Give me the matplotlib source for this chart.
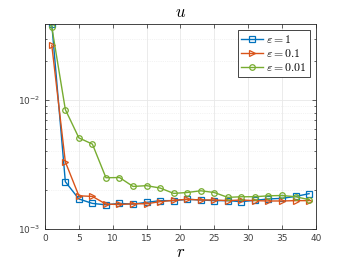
import matplotlib
matplotlib.use("Agg")
import matplotlib.pyplot as plt
import numpy as np

plt.rcParams['mathtext.fontset'] = 'cm'

r = [1, 3, 5, 7, 9, 11, 13, 15, 17, 19, 21, 23, 25, 27, 29, 31, 33, 35, 37, 39]

u_eps1 = [0.039, 2.33e-3, 1.71e-3, 1.58e-3, 1.54e-3, 1.58e-3, 1.56e-3, 1.61e-3, 1.66e-3, 1.66e-3,
          1.70e-3, 1.68e-3, 1.66e-3, 1.66e-3, 1.63e-3, 1.67e-3, 1.71e-3, 1.73e-3, 1.79e-3, 1.88e-3]
u_eps01 = [0.0267, 3.32e-3, 1.81e-3, 1.79e-3, 1.56e-3, 1.55e-3, 1.57e-3, 1.57e-3, 1.63e-3, 1.67e-3,
           1.70e-3, 1.68e-3, 1.68e-3, 1.66e-3, 1.68e-3, 1.66e-3, 1.65e-3, 1.65e-3, 1.66e-3, 1.66e-3]
u_eps001 = [0.037, 8.47e-3, 5.1e-3, 4.56e-3, 2.5e-3, 2.51e-3, 2.14e-3, 2.17e-3, 2.08e-3, 1.89e-3,
            1.92e-3, 1.98e-3, 1.92e-3, 1.76e-3, 1.78e-3, 1.78e-3, 1.81e-3, 1.82e-3, 1.78e-3, 1.69e-3]

fig = plt.figure(figsize=(3.49, 2.62), dpi=100)
ax = fig.add_axes([0.129, 0.126, 0.776, 0.782])

ax.semilogy(r, u_eps1, '-s', color='#0072BD', mfc='none', ms=4, lw=1, mew=0.9, label=r'$\varepsilon = 1$')
ax.semilogy(r, u_eps01, '->', color='#D95319', mfc='none', ms=4, lw=1, mew=0.9, label=r'$\varepsilon = 0.1$')
ax.semilogy(r, u_eps001, '-o', color='#77AC30', mfc='none', ms=4, lw=1, mew=0.9, label=r'$\varepsilon = 0.01$')

ax.set_xlim(0, 40)
ax.set_ylim(1e-3, 0.039)
ax.set_xticks(range(0, 41, 5))
ax.grid(True, which='major', color='#e8e8e8', lw=0.6)
ax.grid(True, which='minor', axis='y', color='#e8e8e8', lw=0.5, ls=':')
ax.set_axisbelow(True)
ax.tick_params(which='both', direction='in', top=True, right=True, labelsize=6.5,
               labelcolor='#404040', color='#262626', width=0.5)
ax.tick_params(which='major', length=3)
ax.tick_params(which='minor', length=1.5)
for s in ax.spines.values():
    s.set_color('#262626')
    s.set_linewidth(0.6)

ax.set_title(r'$u$', fontsize=12, pad=5)
ax.set_xlabel(r'$r$', fontsize=12, labelpad=0)

leg = ax.legend(loc='upper right', fontsize=8.5, fancybox=False, edgecolor='#262626',
                framealpha=1, handlelength=1.8, borderpad=0.25, labelspacing=0.1,
                handletextpad=0.3, borderaxespad=0.5)
leg.get_frame().set_linewidth(0.6)

fig.savefig('out.png', dpi=100)
